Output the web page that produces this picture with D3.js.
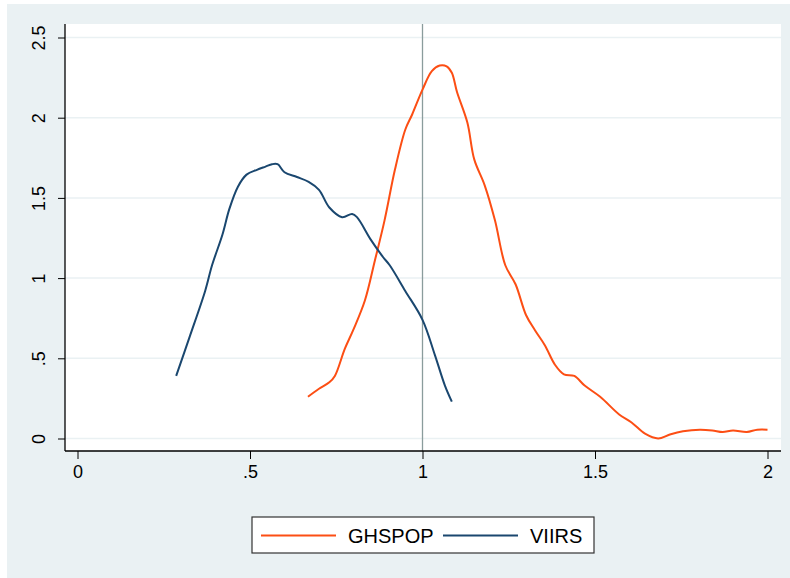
<!DOCTYPE html>
<html>
<head>
    <meta charset="utf-8" />
    <title>Kernel density</title>
    <script src="https://cdn.jsdelivr.net/npm/d3@7"></script>
    <style>
        body { margin: 0; background: #fff; }
        text { font-family: "Liberation Sans", Arial, sans-serif; fill: #000; }
    </style>
</head>
<body>
    <svg width="790" height="578"></svg>
    <script>

        // density curves
        var viirsX = [0.286, 0.326, 0.37, 0.39, 0.42, 0.44, 0.465, 0.49, 0.52, 0.545, 0.564, 0.58, 0.60, 0.636, 0.67, 0.70, 0.73, 0.767, 0.796, 0.81, 0.85, 0.886, 0.905, 0.95, 1.0, 1.036, 1.065, 1.085];
        var viirsY = [0.39, 0.64, 0.92, 1.08, 1.27, 1.43, 1.57, 1.645, 1.675, 1.695, 1.71, 1.71, 1.66, 1.63, 1.60, 1.55, 1.44, 1.38, 1.40, 1.38, 1.24, 1.13, 1.08, 0.92, 0.74, 0.52, 0.33, 0.23];

        var ghsX = [0.668, 0.70, 0.73, 0.746, 0.775, 0.80, 0.833, 0.862, 0.89, 0.92, 0.95, 0.97, 1.0, 1.027, 1.05, 1.07, 1.085, 1.10, 1.13, 1.15, 1.18, 1.21, 1.24, 1.27, 1.30, 1.326, 1.355, 1.384, 1.41, 1.44, 1.47, 1.515, 1.57, 1.606, 1.645, 1.683, 1.717, 1.755, 1.804, 1.84, 1.87, 1.90, 1.94, 1.97, 2.0];
        var ghsY = [0.26, 0.31, 0.35, 0.39, 0.56, 0.68, 0.86, 1.11, 1.36, 1.675, 1.925, 2.02, 2.175, 2.29, 2.325, 2.32, 2.28, 2.16, 1.97, 1.74, 1.58, 1.36, 1.08, 0.96, 0.77, 0.675, 0.58, 0.46, 0.40, 0.39, 0.33, 0.26, 0.15, 0.10, 0.03, 0.0, 0.025, 0.045, 0.055, 0.05, 0.04, 0.05, 0.04, 0.055, 0.055];

        var xTicks = [0, 0.5, 1, 1.5, 2];
        var xTickLabels = ["0", ".5", "1", "1.5", "2"];
        var yTicks = [0, 0.5, 1, 1.5, 2, 2.5];
        var yTickLabels = ["0", ".5", "1", "1.5", "2", "2.5"];
        var refLine = 1;

        var series = [
            { name: "GHSPOP", xs: ghsX, ys: ghsY, color: "#fc4e14" },
            { name: "VIIRS", xs: viirsX, ys: viirsY, color: "#1a476f" }
        ];

        var svg = d3.select("svg");

        var x = d3.scaleLinear().domain([0, 2]).range([77.5, 767.5]);
        var y = d3.scaleLinear().domain([0, 2.5]).range([438.5, 37.5]);

        var plot = { left: 65, right: 781, top: 24, bottom: 451 };

        // graph region
        svg.append("rect")
            .attr("x", 7).attr("y", 4)
            .attr("width", 783).attr("height", 574)
            .attr("fill", "#eaf1f3");

        svg.append("rect")
            .attr("x", plot.left).attr("y", plot.top)
            .attr("width", plot.right - plot.left)
            .attr("height", plot.bottom - plot.top)
            .attr("fill", "#fff");

        // grid
        svg.append("g")
            .selectAll("line")
            .data(yTicks)
            .enter()
            .append("line")
            .attr("x1", plot.left).attr("x2", plot.right)
            .attr("y1", function(d) { return y(d); })
            .attr("y2", function(d) { return y(d); })
            .attr("stroke", "#eaf1f3")
            .attr("stroke-width", 1.5);

        // reference line at 1
        svg.append("line")
            .attr("x1", x(refLine)).attr("x2", x(refLine))
            .attr("y1", plot.top).attr("y2", plot.bottom)
            .attr("stroke", "#8a9c9c")
            .attr("stroke-width", 1.3);

        // axes
        var yAxis = d3.axisLeft(y)
            .tickValues(yTicks)
            .tickFormat(function(d, i) { return yTickLabels[i]; })
            .tickSize(7);

        var gy = svg.append("g")
            .attr("transform", "translate(" + plot.left + ",0)")
            .call(yAxis);
        gy.select(".domain").remove();
        gy.selectAll("line").attr("stroke", "#000");
        gy.selectAll("text")
            .attr("font-size", 18)
            .attr("text-anchor", "middle")
            .attr("transform", "rotate(-90)")
            .attr("x", 0)
            .attr("y", -20)
            .attr("dy", 0);

        gy.append("line")
            .attr("x1", 0).attr("x2", 0)
            .attr("y1", plot.top).attr("y2", plot.bottom)
            .attr("stroke", "#000").attr("stroke-width", 1.3);

        var xAxis = d3.axisBottom(x)
            .tickValues(xTicks)
            .tickFormat(function(d, i) { return xTickLabels[i]; })
            .tickSize(8)
            .tickPadding(6);

        var gx = svg.append("g")
            .attr("transform", "translate(0," + plot.bottom + ")")
            .call(xAxis);
        gx.select(".domain").remove();
        gx.selectAll("line").attr("stroke", "#000");
        gx.selectAll("text")
            .attr("font-size", 18)
            .attr("dy", "0.71em");

        gx.append("line")
            .attr("x1", plot.left).attr("x2", plot.right)
            .attr("y1", 0).attr("y2", 0)
            .attr("stroke", "#000").attr("stroke-width", 1.3);

        // curves
        var line = d3.line()
            .x(function(d) { return x(d[0]); })
            .y(function(d) { return y(d[1]); })
            .curve(d3.curveCatmullRom.alpha(0.5));

        svg.append("g")
            .selectAll("path")
            .data(series)
            .enter()
            .append("path")
            .attr("d", function(s) { return line(d3.zip(s.xs, s.ys)); })
            .attr("fill", "none")
            .attr("stroke", function(s) { return s.color; })
            .attr("stroke-width", 2)
            .attr("stroke-linejoin", "round");

        // legend
        var legend = svg.append("g").attr("transform", "translate(252,517)");
        legend.append("rect")
            .attr("width", 342).attr("height", 36)
            .attr("fill", "#fff")
            .attr("stroke", "#333").attr("stroke-width", 1.2);

        var item = legend.selectAll("g.item")
            .data(series)
            .enter()
            .append("g")
            .attr("class", "item")
            .attr("transform", function(d, i) { return "translate(" + (9 + i * 182) + ",0)"; });

        item.append("line")
            .attr("x1", 0).attr("x2", 75)
            .attr("y1", 18.5).attr("y2", 18.5)
            .attr("stroke", function(d) { return d.color; })
            .attr("stroke-width", 2);

        item.append("text")
            .attr("x", 87).attr("y", 26)
            .attr("font-size", 20)
            .text(function(d) { return d.name; });

    </script>
</body>
</html>
